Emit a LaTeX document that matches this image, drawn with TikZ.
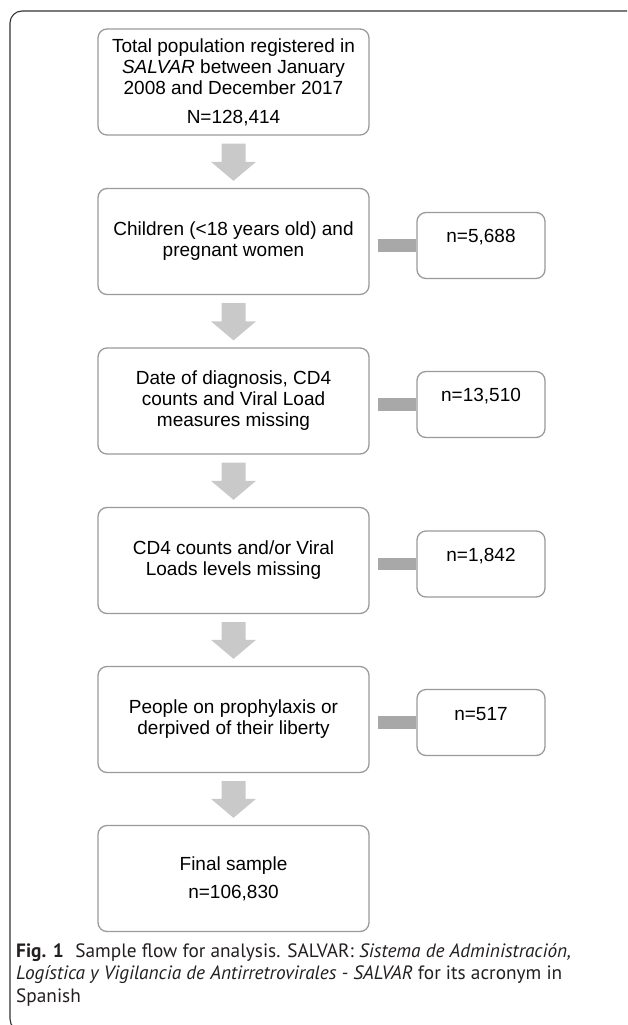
\documentclass[tikz,border=0pt]{standalone}
\usepackage{fontspec}
\setmainfont{Liberation Sans}
\newfontfamily\capfont{PT Sans}
\usetikzlibrary{calc}
\definecolor{boxline}{HTML}{9A9A9A}
\definecolor{arrowgray}{HTML}{C9C9C9}
\definecolor{bargray}{HTML}{A8A8A8}
\definecolor{framecol}{HTML}{333333}
\definecolor{captext}{HTML}{231F20}
\newcommand{\flowarrow}[2]{%
  \fill[arrowgray] let \p1=(#1.south), \p2=(#2.north) in
    (\x1-12pt,\y1-8pt) -- (\x1+12pt,\y1-8pt) -- (\x1+12pt,\y2+26pt) --
    (\x1+22.5pt,\y2+26pt) -- (\x1,\y2+7pt) -- (\x1-22.5pt,\y2+26pt) --
    (\x1-12pt,\y2+26pt) -- cycle;}
\begin{document}
\begin{tikzpicture}[x=1pt,y=-1pt,
  mainbox/.style={draw=boxline, line width=1.3pt, rounded corners=9pt,
    minimum width=271pt, minimum height=106pt, align=center, inner sep=0pt,
    font=\fontsize{19}{21}\selectfont, text=black},
  sidebox/.style={draw=boxline, line width=1.3pt, rounded corners=9pt,
    minimum width=128pt, minimum height=66pt, inner sep=0pt},
  sidetext/.style={font=\fontsize{19}{21}\selectfont, inner sep=0pt, text=black},
  barline/.style={draw=bargray, line width=12.5pt},
  captline/.style={anchor=base west, inner sep=0pt, text=captext,
    font=\capfont\fontsize{19.3}{22}\selectfont}
]
\useasboundingbox (0,0) rectangle (627,1025);
\clip (0,0) rectangle (627,1025);
\draw[framecol, line width=1.1pt, rounded corners=12pt] (10,11) rectangle (660,1031);

\node[mainbox] (b1) at (233.5,82) {Total population registered in\\ \textit{SALVAR} between January\\ 2008 and December 2017\\[8pt] N=128,414};
\node[mainbox] (b2) at (233.5,241.5) {Children (<18 years old) and\\ pregnant women};
\node[mainbox] (b3) at (233.5,401) {Date of diagnosis, CD4\\ counts and Viral Load\\ measures missing};
\node[mainbox] (b4) at (233.5,560.5) {CD4 counts and/or Viral\\ Loads levels missing};
\node[mainbox] (b5) at (233.5,719.5) {People on prophylaxis or\\ derpived of their liberty};
\node[mainbox] (b6) at (233.5,878.5) {Final sample\\[7pt] n=106,830};

\node[sidebox] (s2) at (481,245.5) {};
\node[sidebox] (s3) at (481,404.5) {};
\node[sidebox] (s4) at (481,564) {};
\node[sidebox] (s5) at (481,722.5) {};
\node[sidetext] (t2) at (481,237) {n=5,688};
\node[sidetext] (t3) at (481,396.5) {n=13,510};
\node[sidetext] (t4) at (481,556) {n=1,842};
\node[sidetext] (t5) at (481,714) {n=517};

\draw[barline] ($(b2.east |- s2.west)+(8,0)$) -- (s2.west);
\draw[barline] ($(b3.east |- s3.west)+(8,0)$) -- (s3.west);
\draw[barline] ($(b4.east |- s4.west)+(8,0)$) -- (s4.west);
\draw[barline] ($(b5.east |- s5.west)+(8,0)$) -- (s5.west);

\flowarrow{b1}{b2}
\flowarrow{b2}{b3}
\flowarrow{b3}{b4}
\flowarrow{b4}{b5}
\flowarrow{b5}{b6}

\node[captline] (c1) at (16,957) {\textbf{Fig. 1}\hspace{0.6em}Sample flow for analysis. SALVAR: \textit{Sistema de Administración,}};
\node[captline] (c2) at (16,979.5) {\textit{Logística y Vigilancia de Antirretrovirales - SALVAR} for its acronym in};
\node[captline] (c3) at (16,1002) {Spanish};
\end{tikzpicture}
\end{document}
